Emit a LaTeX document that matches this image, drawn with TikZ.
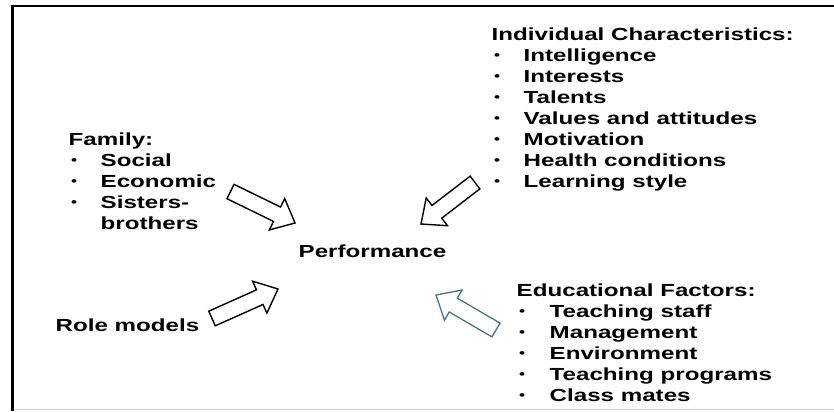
\documentclass[tikz,border=0pt]{standalone}
\usepackage{fontspec}
\setmainfont{Liberation Sans}[FakeStretch=1.38]
\usetikzlibrary{calc}
\definecolor{edublue}{RGB}{65,113,156}
\newcommand\blkarrow[3]{%
  \coordinate (#1-b) at ($(#2)!20bp!(#1)$);
  \draw[#3] ($(#1)!8bp!90:(#2)$) -- ($(#1-b)!8bp!90:(#2)$) -- ($(#1-b)!17.5bp!90:(#2)$) -- (#2)
    -- ($(#1-b)!17.5bp!-90:(#2)$) -- ($(#1-b)!8bp!-90:(#2)$) -- ($(#1)!8bp!-90:(#2)$) -- cycle;}
\newcommand\smbul{\hspace*{2.5bp}\raisebox{1.8bp}{\fontsize{12.5bp}{12.5bp}\selectfont\textbullet}}
\begin{document}
\begin{tikzpicture}[x=1bp,y=-1bp,
  txt/.style={inner sep=0pt, anchor=base west, font=\fontsize{17.5bp}{21bp}\selectfont\bfseries},
  blk/.style={draw=black, line width=1.4bp, fill=white, line join=miter},
  blkblue/.style={draw=edublue, line width=1.3bp, fill=white, line join=miter}]
\useasboundingbox (0,0) rectangle (834,411);
% frame
\draw[line width=1bp, black!20] (12,409.5) -- (834,409.5);
\draw[line width=2bp] (11,5.5) -- (834,5.5);
\draw[line width=3bp] (12.5,4.5) -- (12.5,411);
% texts
\node[txt] (ind) at (491.5,40.5) {\begin{tabular}[t]{@{}p{32bp}@{}l@{}}
  \multicolumn{2}{@{}l@{}}{Individual Characteristics:}\\
  \smbul & Intelligence\\
  \smbul & Interests\\
  \smbul & Talents\\
  \smbul & Values and attitudes\\
  \smbul & Motivation\\
  \smbul & Health conditions\\
  \smbul & Learning style
  \end{tabular}};
\node[txt] (fam) at (68.5,145) {\begin{tabular}[t]{@{}p{32bp}@{}l@{}}
  \multicolumn{2}{@{}l@{}}{Family:}\\
  \smbul & Social\\
  \smbul & Economic\\
  \smbul & Sisters-\\
   & brothers
  \end{tabular}};
\node[txt] (edu) at (516.5,296) {\begin{tabular}[t]{@{}p{33bp}@{}l@{}}
  \multicolumn{2}{@{}l@{}}{Educational Factors:}\\
  \smbul & Teaching staff\\
  \smbul & Management\\
  \smbul & Environment\\
  \smbul & Teaching programs\\
  \smbul & Class mates
  \end{tabular}};
\node[txt] (perf) at (298.5,257) {Performance};
\node[txt] (role) at (55.5,331) {Role models};
% arrows
\coordinate (famT) at (230.5,191.5);
\coordinate (famH) at (295,223);
\coordinate (roleT) at (212,318.5);
\coordinate (roleH) at (278,289);
\coordinate (indT) at (475,182.5);
\coordinate (indH) at (421,224);
\coordinate (eduT) at (496,330);
\coordinate (eduH) at (436,295);
\blkarrow{famT}{famH}{blk}
\blkarrow{roleT}{roleH}{blk}
\blkarrow{indT}{indH}{blk}
\blkarrow{eduT}{eduH}{blkblue}
\end{tikzpicture}
\end{document}
